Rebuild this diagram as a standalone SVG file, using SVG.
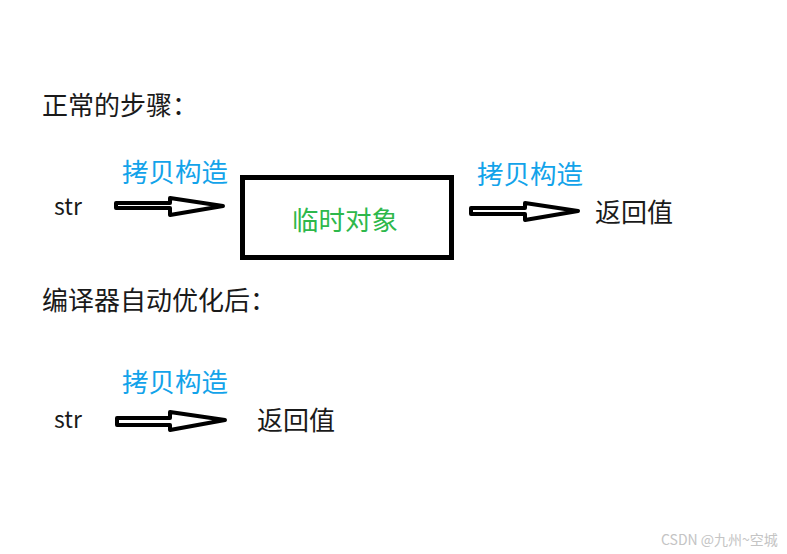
<svg xmlns="http://www.w3.org/2000/svg" width="787" height="554" viewBox="0 0 787 554">
<style>
text{font-family:"Noto Sans CJK SC","Noto Sans",sans-serif;}
.t{font-size:26px;fill:#1a1a1a;}
.lbl{font-size:26.5px;fill:#12a3ea;}
.s{font-size:23px;fill:#1a1a1a;}
.arr{fill:#fff;stroke:#000;stroke-width:4;stroke-linejoin:round;}
.wm{font-size:14px;fill:#c4c4c4;}
</style>
<rect width="787" height="554" fill="#fff"/>
<text class="t" x="42" y="115">正常的步骤：</text>
<g id="str1"><text class="s" x="54" y="215">str</text></g>
<g id="tmp">
<rect x="242.5" y="177.5" width="209" height="80" fill="#fff" stroke="#000" stroke-width="5"/>
<text x="292" y="230" style="font-size:26.5px;fill:#2eb84b">临时对象</text>
</g>
<g id="ret1"><text class="t" x="595" y="222">返回值</text></g>
<text class="t" x="42" y="310">编译器自动优化后：</text>
<g id="str2"><text class="s" x="54" y="428">str</text></g>
<g id="ret2"><text class="t" x="257" y="430">返回值</text></g>
<g id="connectors">
<path class="arr" d="M116,203 L170,203 L170,198 L223,206 L170,215 L170,208 L116,208 Z"/>
<text class="lbl" x="122" y="182">拷贝构造</text>
<path class="arr" d="M471,208 L525,208 L525,203 L578,211 L525,220 L525,214 L471,214 Z"/>
<text class="lbl" x="477" y="184">拷贝构造</text>
<path class="arr" d="M117,418 L170,418 L170,412 L225,420 L170,430 L170,425 L117,425 Z"/>
<text class="lbl" x="122" y="392">拷贝构造</text>
</g>
<text class="wm" x="661" y="545">CSDN @九州~空城</text>
</svg>
